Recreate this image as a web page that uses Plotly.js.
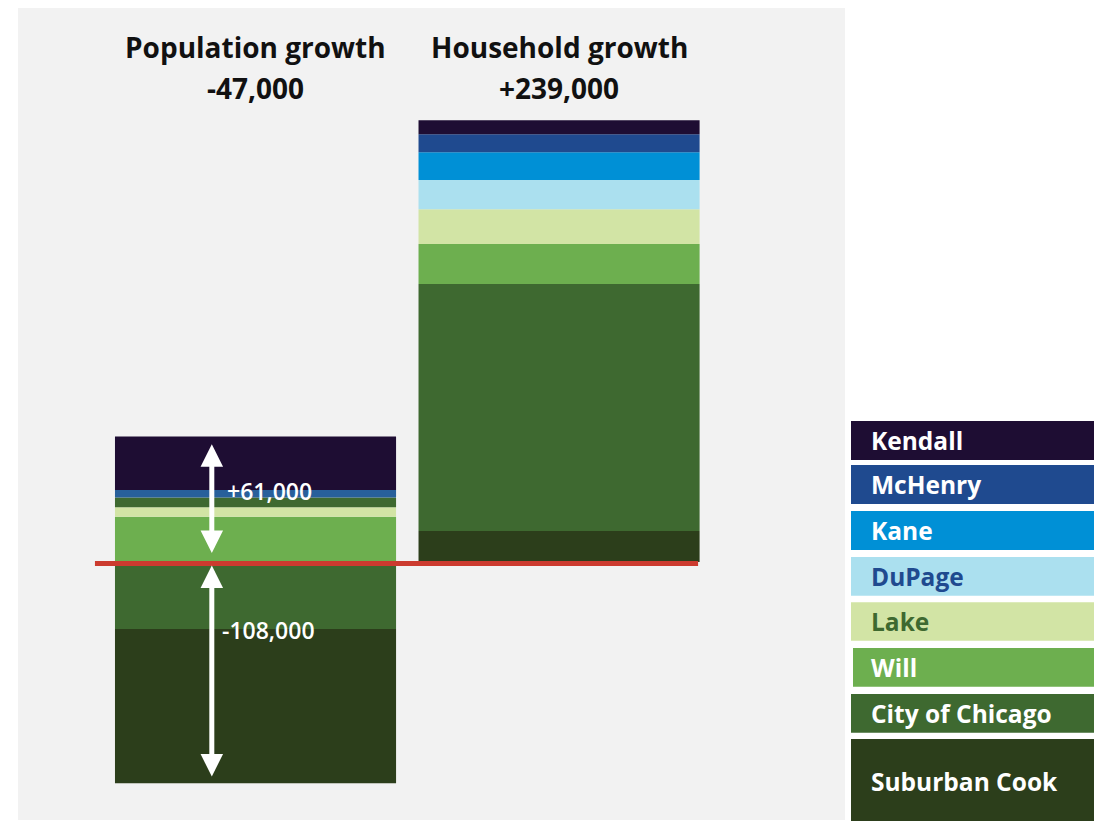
<!DOCTYPE html>
<html>
<head>
<meta charset="utf-8">
<script src="https://cdn.plot.ly/plotly-3.0.1.min.js"></script>
<style>html,body{margin:0;padding:0;background:#fff;}#chart{width:1094px;height:821px;}</style>
</head>
<body>
<div id="chart"></div>
<script>
// ---- data ----
const bars = ['Population growth', 'Household growth'];
const barTotals = ['-47,000', '+239,000'];
const counties = ['Suburban Cook', 'City of Chicago', 'Will', 'Lake', 'DuPage', 'Kane', 'McHenry', 'Kendall'];
const countyColors = ['#2c3e1b', '#3e6930', '#6daf4f', '#d2e4a5', '#abe0ef', '#0090d6', '#1f4a8f', '#1e0d33'];
const legendTextColors = ['#ffffff', '#ffffff', '#ffffff', '#3e6930', '#1f4a8f', '#ffffff', '#ffffff', '#ffffff'];
const popGrowth = [-75200, -32700, 22100, 4600, 4700, 0, 3750, 26000];
const popSegColors = ['#2c3e1b', '#3e6930', '#6daf4f', '#d2e4a5', '#3e6930', '#0090d6', '#28609b', '#1e0d33'];
const hhGrowth = [16800, 133500, 21600, 18800, 15800, 15100, 9700, 7600];
const popPositiveLabel = '+61,000';
const popNegativeLabel = '-108,000';
const popPositiveTotal = 61000;
const popNegativeTotal = -108000;

// ---- layout helpers (pixel -> paper) ----
const PL = 18, PR = 845, PT = 8, PB = 820;
const px = p => (p - PL) / (PR - PL);
const py = p => (PB - p) / (PB - PT);

const traces = [];
// population: City of Chicago nearest zero on the negative side
const popOrder = [1, 0, 2, 3, 4, 5, 6, 7];
popOrder.forEach(i => {
  traces.push({
    type: 'bar', x: [bars[0]], y: [popGrowth[i]], name: counties[i],
    marker: {color: popSegColors[i], line: {width: 0}},
    width: 0.926, xaxis: 'x', yaxis: 'y', showlegend: false, hoverinfo: 'skip'
  });
});
counties.forEach((c, i) => {
  traces.push({
    type: 'bar', x: [bars[1]], y: [hhGrowth[i]], name: c,
    marker: {color: countyColors[i], line: {width: 0}},
    width: 0.926, xaxis: 'x', yaxis: 'y2', showlegend: false, hoverinfo: 'skip'
  });
});

const shapes = [
  {type: 'line', xref: 'x', yref: 'y', x0: -0.529, x1: 1.458, y0: -700, y1: -700,
   line: {color: '#cc3b2f', width: 5}}
];
const annotations = [];
const headFont = {family: '"Open Sans", Arial, sans-serif', size: 28, color: '#111', weight: 700};
// header texts
bars.forEach((b, i) => {
  annotations.push({xref: 'x', yref: 'paper', x: i, y: py(47), text: b,
    showarrow: false, font: headFont, xanchor: 'center', yanchor: 'middle'});
  annotations.push({xref: 'x', yref: 'paper', x: i, y: py(88), text: barTotals[i],
    showarrow: false, font: headFont, xanchor: 'center', yanchor: 'middle'});
});
// double arrows
const arrowX = -0.144;
const arrowStyle = {text: '', showarrow: true, arrowside: 'end+start', arrowhead: 2, startarrowhead: 2,
  arrowsize: 0.9, startarrowsize: 0.9, arrowwidth: 5, arrowcolor: '#ffffff'};
annotations.push(Object.assign({xref: 'x', yref: 'y', axref: 'x', ayref: 'y', x: arrowX, y: 0, ax: arrowX, ay: popPositiveTotal,
  standoff: 9, startstandoff: 6}, arrowStyle));
annotations.push(Object.assign({xref: 'x', yref: 'y', axref: 'x', ayref: 'y', x: arrowX, y: popNegativeTotal, ax: arrowX, ay: 0,
  standoff: 7, startstandoff: 2}, arrowStyle));
const labelFont = {family: '"Open Sans", sans-serif', size: 23, color: '#ffffff', weight: 600};
annotations.push({xref: 'x', yref: 'y', x: -0.1, y: 34600, text: popPositiveLabel, showarrow: false,
  xanchor: 'left', yanchor: 'middle', font: labelFont});
annotations.push({xref: 'x', yref: 'y', x: -0.118, y: -33150, text: popNegativeLabel, showarrow: false,
  xanchor: 'left', yanchor: 'middle', font: labelFont});

// legend boxes (pixel tops/bottoms, in county order)
const legendTop = [739, 694, 648, 602.3, 557, 511, 465, 421];
const legendBottom = [822, 732.7, 686.7, 640.7, 595.7, 550, 504, 460];
const legendLeft = [851, 851, 853, 851, 851, 851, 851, 851];
counties.forEach((c, i) => {
  shapes.push({type: 'rect', xref: 'paper', yref: 'paper', x0: px(legendLeft[i]), x1: px(1096),
    y0: py(legendBottom[i]), y1: py(legendTop[i]), fillcolor: countyColors[i], line: {width: 0}, layer: 'above'});
  const mid = i === 0 ? 781 : legendTop[i] + 19.5;
  annotations.push({xref: 'paper', yref: 'paper', x: px(869), y: py(mid), text: c,
    showarrow: false, xanchor: 'left', yanchor: 'middle',
    font: {family: '"Open Sans", sans-serif', size: 24.5, color: legendTextColors[i], weight: 700}});
});

const layout = {
  width: 1094, height: 821,
  margin: {l: PL, r: 1094 - PR, t: PT, b: 821 - PB, pad: 0},
  paper_bgcolor: '#ffffff', plot_bgcolor: '#f2f2f2',
  barmode: 'relative', showlegend: false,
  xaxis: {type: 'category', range: [-0.7825, 1.942], visible: false, fixedrange: true},
  yaxis: {range: [-125775, 270075], visible: false, fixedrange: true, zeroline: false, showgrid: false},
  yaxis2: {range: [-139500, 299550], overlaying: 'y', visible: false, fixedrange: true, zeroline: false, showgrid: false},
  shapes: shapes, annotations: annotations
};

Plotly.newPlot('chart', traces, layout, {displayModeBar: false, staticPlot: true});
</script>
</body>
</html>
